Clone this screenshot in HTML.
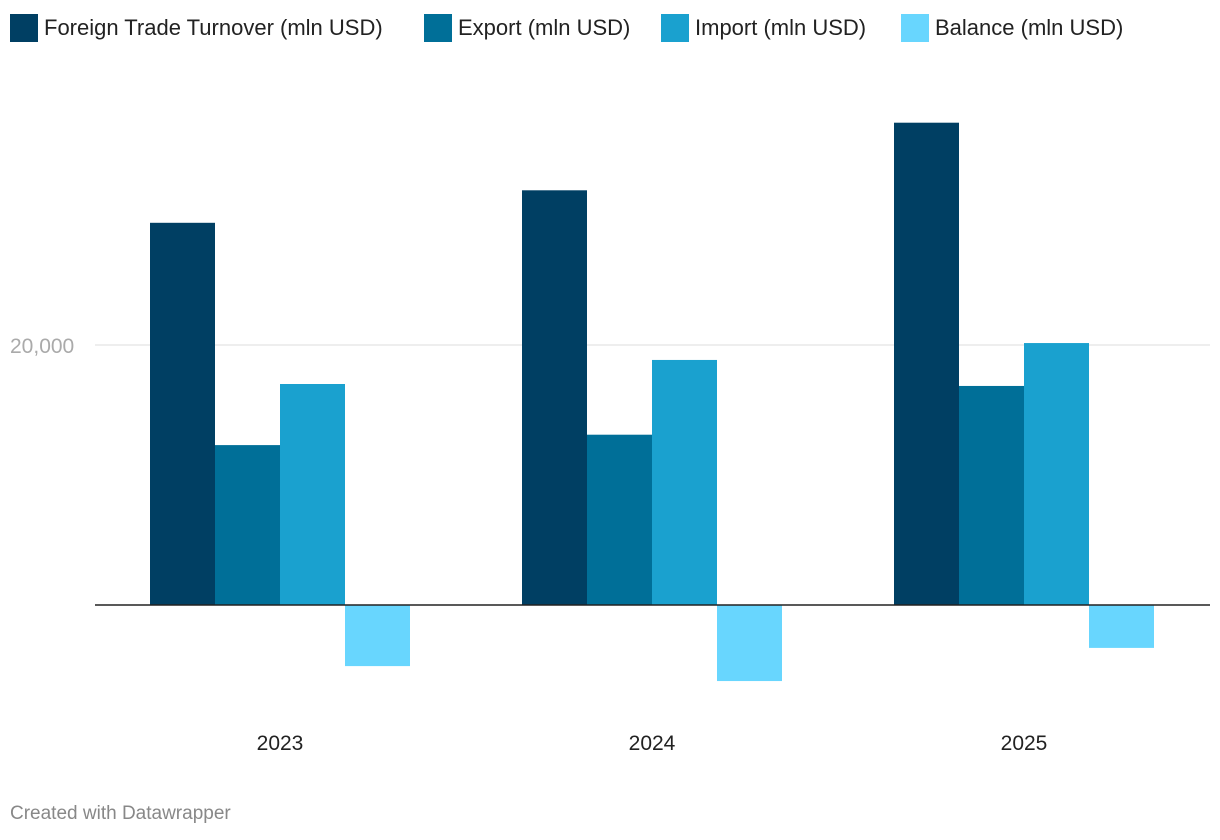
<!DOCTYPE html>
<html><head><meta charset="utf-8"><style>
body{margin:0;background:#fff;font-family:"Liberation Sans",Arial,sans-serif;}
#wrap{position:relative;width:1220px;height:840px;overflow:hidden;}
.leg{position:absolute;top:14px;display:flex;align-items:center;font-size:22px;color:#222;}
.leg span.sw{display:inline-block;width:28px;height:28px;margin-right:6px;}
</style></head><body>
<div id="wrap">
<div class="leg" style="left:10px"><span class="sw" style="background:#003f63"></span>Foreign Trade Turnover (mln USD)</div>
<div class="leg" style="left:424px"><span class="sw" style="background:#006f98"></span>Export (mln USD)</div>
<div class="leg" style="left:661px"><span class="sw" style="background:#1aa1cf"></span>Import (mln USD)</div>
<div class="leg" style="left:901px"><span class="sw" style="background:#68d6fe"></span>Balance (mln USD)</div>
<svg id="svg" width="1220" height="840" style="position:absolute;left:0;top:0"></svg>
<div style="position:absolute;left:10px;top:803px;font-size:19px;color:#888">Created with Datawrapper</div>
</div>
<script>
const categories=["2023","2024","2025"];
const turnover=[29400,31900,37100];
const exportV=[12300,13100,16850];
const importV=[17000,18850,20150];
const balance=[-4700,-5850,-3300];
const yTicks=[20000];
const series=[turnover,exportV,importV,balance];
const colors=["#003f63","#006f98","#1aa1cf","#68d6fe"];
const names=["turnover","export","import","balance"];
const NS="http://www.w3.org/2000/svg";
const svg=document.getElementById("svg");
const y0=605,pxPer=260/20000;
const y=v=>y0-v*pxPer;
const gx=i=>150+i*372, bw=65;
function mk(t,a){const e=document.createElementNS(NS,t);for(const k in a)e.setAttribute(k,a[k]);svg.appendChild(e);return e;}
yTicks.forEach(t=>{
  const l=mk("line",{x1:95,x2:1210,y1:y(t),y2:y(t),stroke:"#ddd","stroke-width":1});
  
  
  const tx=mk("text",{x:10,y:y(t)+8,"font-size":21,fill:"#aaa","font-family":"Liberation Sans, sans-serif"});
  tx.textContent=t.toLocaleString("en-US");
  
  
});
categories.forEach((c,i)=>{
  series.forEach((s,j)=>{
    const v=s[i];
    const r=mk("rect",{x:gx(i)+j*bw,y:Math.min(y(v),y0),width:bw,height:Math.abs(y(v)-y0),fill:colors[j]});
    
    
  });
  const t=mk("text",{x:gx(i)+2*bw,y:750,"font-size":21,fill:"#222","text-anchor":"middle","font-family":"Liberation Sans, sans-serif"});
  t.textContent=c;
  
  
});
const ax=mk("line",{x1:95,x2:1210,y1:y0,y2:y0,stroke:"#222","stroke-width":1.5});


</script>
</body></html>
